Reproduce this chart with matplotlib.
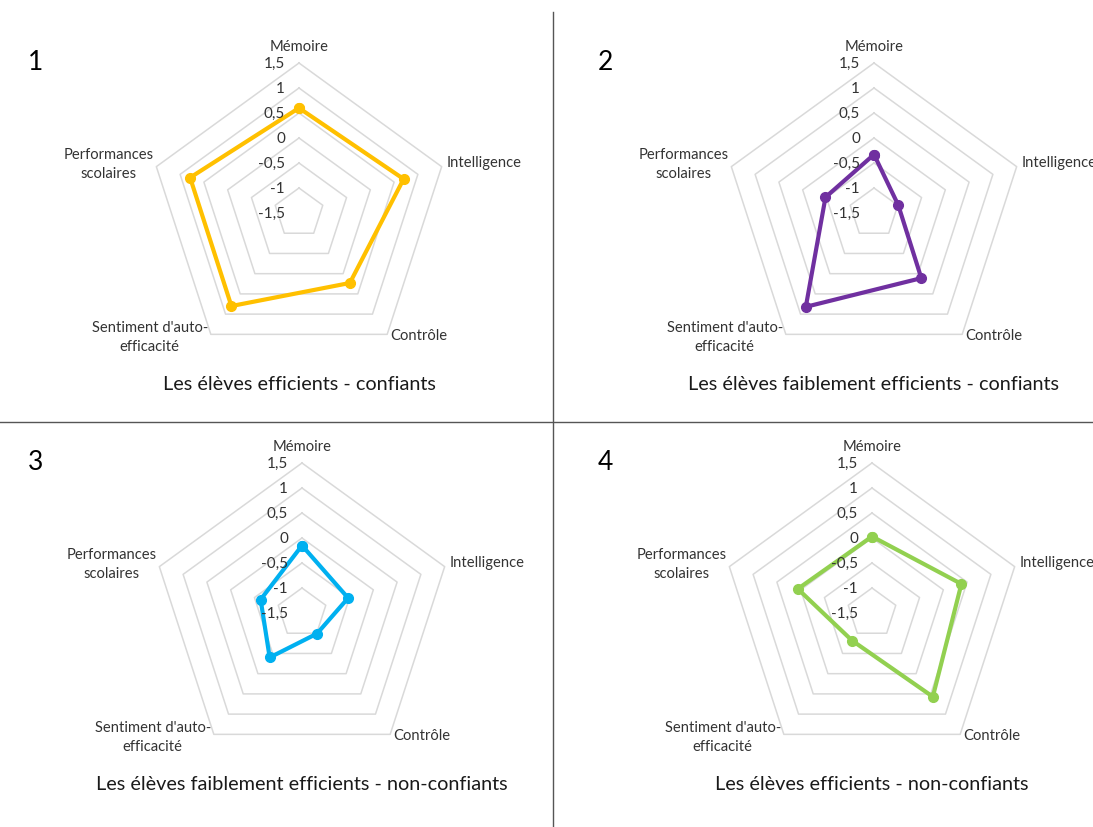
import numpy as np
import matplotlib
matplotlib.use("Agg")
import matplotlib.pyplot as plt
from matplotlib.lines import Line2D

plt.rcParams['font.family'] = ['Lato', 'DejaVu Sans']

W, H = 1093, 827

### Donnees
categories = ["Mémoire", "Intelligence", "Contrôle",
              "Sentiment d'auto-\nefficacité", "Performances\nscolaires"]
levels = [-1.5, -1, -0.5, 0, 0.5, 1, 1.5]
level_labels = ["-1,5", "-1", "-0,5", "0", "0,5", "1", "1,5"]

vals_1 = [0.60, 0.70, 0.23, 0.80, 0.79]
vals_2 = [-0.33, -0.99, 0.11, 0.82, -0.48]
vals_3 = [-0.15, -0.53, -0.99, -0.40, -0.63]
vals_4 = [0.03, 0.38, 0.57, -0.82, 0.06]

titles = ["Les élèves efficients - confiants",
          "Les élèves faiblement efficients - confiants",
          "Les élèves faiblement efficients - non-confiants",
          "Les élèves efficients - non-confiants"]
colors = ["#FFC000", "#7030A0", "#00B0F0", "#92D050"]
numbers = ["1", "2", "3", "4"]

# centres des radars (pixels, origine en haut a gauche)
centers = [(299, 213), (874, 213), (302, 613), (872, 613)]
R = 150

# positions des etiquettes (decalage en pixels par rapport au sommet)
lab_off = [(0, 16, 'center'), (5, 4, 'left'), (3, -2, 'left'),
           (-3, -3, 'right'), (-3, 2, 'right')]

fig = plt.figure(figsize=(W / 100, H / 100), dpi=100)

angles = np.linspace(0, 2 * np.pi, len(categories), endpoint=False)
ang_closed = np.append(angles, angles[0])

series = [vals_1, vals_2, vals_3, vals_4]
for k in range(4):
    cx, cy = centers[k]
    ax = fig.add_axes([(cx - R) / W, (H - cy - R) / H, 2 * R / W, 2 * R / H],
                      projection='polar')
    ax.set_theta_offset(np.pi / 2)
    ax.set_theta_direction(-1)
    ax.set_ylim(-1.5, 1.5)
    ax.set_axis_off()

    # grille pentagonale
    for lv in levels[1:]:
        ax.plot(ang_closed, [lv] * len(ang_closed), color="#D9D9D9",
                lw=1.1, clip_on=False, zorder=1)

    v = series[k]
    ax.plot(ang_closed, v + [v[0]], color=colors[k], lw=3.0, marker='o',
            ms=7, clip_on=False, zorder=3)

    for lv, lt in zip(levels, level_labels):
        ax.annotate(lt, xy=(0, lv), xytext=(-14, -1), textcoords='offset pixels',
                    ha='right', va='center', fontsize=11, color="#333333",
                    annotation_clip=False)

    for a, c, (dx, dy, ha) in zip(angles, categories, lab_off):
        ax.annotate(c, xy=(a, 1.5), xytext=(dx, dy), textcoords='offset pixels',
                    ha=ha, va='center', multialignment='center',
                    linespacing=1.4, fontsize=10.6, color="#333333",
                    annotation_clip=False)

    fig.text((cx) / W, 1 - (cy + 172) / H, titles[k], ha='center', va='center',
             fontsize=14.3, color="#1a1a1a")
    nx = 36 if k % 2 == 0 else 605
    ny = 62 if k < 2 else 463
    fig.text(nx / W, 1 - ny / H, numbers[k], ha='center', va='center',
             fontsize=19, color="black")

# separateurs
fig.add_artist(Line2D([553 / W, 553 / W], [0, 1 - 12 / H],
                      transform=fig.transFigure, color="#555555", lw=1.0))
fig.add_artist(Line2D([0, 1], [1 - 422 / H, 1 - 422 / H],
                      transform=fig.transFigure, color="#555555", lw=1.0))

fig.savefig("out.png", dpi=100)
